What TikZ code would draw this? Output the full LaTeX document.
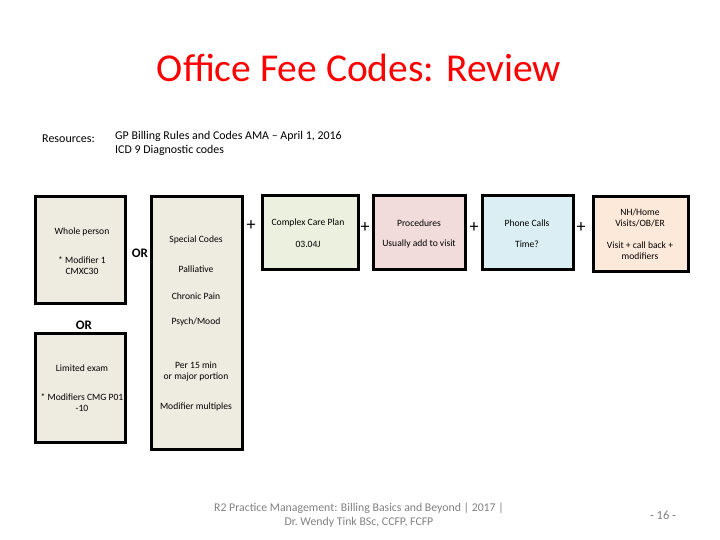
\documentclass[tikz,border=0pt]{standalone}
\usepackage{fontspec}
\setmainfont{Carlito}
\usetikzlibrary{positioning}
\definecolor{beige}{HTML}{EEECE1}
\definecolor{palegreen}{HTML}{EBF1DE}
\definecolor{palepink}{HTML}{F2DCDB}
\definecolor{paleblue}{HTML}{DBEEF4}
\definecolor{palepeach}{HTML}{FDE9D9}
\definecolor{footgray}{HTML}{808080}

\begin{document}
\begin{tikzpicture}[x=1pt,y=-1pt,
  box/.style={draw=black,line width=3pt,inner sep=0pt},
  txt/.style={font=\fontsize{9.6}{10.8}\selectfont,align=center,inner sep=0pt},
  orword/.style={font=\fontsize{13}{15}\selectfont\bfseries,inner sep=0pt},
  plus/.style={font=\fontsize{18}{18}\selectfont,inner sep=0.5pt}]
\useasboundingbox (0,0) rectangle (720,540);
% title and resources
\node[font=\fontsize{39.5}{44}\selectfont,text=red,inner sep=0pt] (title) at (359,68) {Office Fee Codes: Review};
\node[font=\fontsize{12}{14}\selectfont,anchor=west,inner sep=0pt] (res) at (42,139) {Resources:};
\node[font=\fontsize{11.9}{14}\selectfont,anchor=north west,align=left,inner sep=0pt] (refs) at (115,131)
  {GP Billing Rules and Codes AMA -- April 1, 2016\\ICD 9 Diagnostic codes};
% left boxes
\node[box,fill=beige,minimum width=90pt,minimum height=106pt] (whole) at (80,250) {};
\node[box,fill=beige,minimum width=90pt,minimum height=109pt] (limited) at (80,387.5) {};
\node[box,fill=beige,minimum width=91pt,minimum height=252pt] (special) at (196.5,323) {};
\node[txt] (wp) at (82,232) {Whole person};
\node[txt] (mod1) at (82,266) {* Modifier 1\\CMXC30};
\node[orword] (or1) at (140,253) {OR};
\node[orword] (or2) at (84,325) {OR};
\node[txt] (le) at (82,368) {Limited exam};
\node[txt] (mods) at (82,402.5) {* Modifiers CMG P01\\-10};
\node[txt] (sc) at (196,240) {Special Codes};
\node[txt] (pal) at (196,269) {Palliative};
\node[txt] (cp) at (196,296) {Chronic Pain};
\node[txt] (pm) at (196,322) {Psych/Mood};
\node[txt] (per) at (196,371.5) {Per 15 min\\or major portion};
\node[txt] (mm) at (196,407) {Modifier multiples};
% top row of add-ons
\node[box,fill=palegreen,minimum width=96pt,minimum height=73pt] (ccp) at (310,232.5) {};
\node[box,fill=palepink,minimum width=92pt,minimum height=73pt] (proc) at (419,232.5) {};
\node[box,fill=paleblue,minimum width=91pt,minimum height=73pt] (phone) at (527.5,232.5) {};
\node[box,fill=palepeach,minimum width=95pt,minimum height=74pt] (nh) at (640.5,234) {};
\node[txt] (ccpa) at (308,223) {Complex Care Plan};
\node[txt] (ccpb) at (308,244) {03.04J};
\node[txt] (proca) at (419,223) {Procedures};
\node[txt] (procb) at (419,244) {Usually add to visit};
\node[txt] (phonea) at (527,223) {Phone Calls};
\node[txt] (phoneb) at (527,244) {Time?};
\node[txt] (nha) at (640,217.5) {NH/Home\\Visits/OB/ER};
\node[txt] (nhb) at (640,250.5) {Visit + call back +\\modifiers};
\node[plus] (p1) at (251,226) {+};
\node[plus] (p2) at (365,228) {+};
\node[plus,fill=white] (p3) at (474,228) {+};
\node[plus] (p4) at (581,228) {+};
% footer
\node[font=\fontsize{11.8}{14}\selectfont,text=footgray,align=center,inner sep=0pt] (foot) at (359,515)
  {R2 Practice Management: Billing Basics and Beyond | 2017 |\\Dr.\ Wendy Tink BSc, CCFP, FCFP};
\node[font=\fontsize{12.5}{14}\selectfont,text=footgray,inner sep=0pt] (page) at (663,515) {- 16 -};
\end{tikzpicture}
\end{document}
